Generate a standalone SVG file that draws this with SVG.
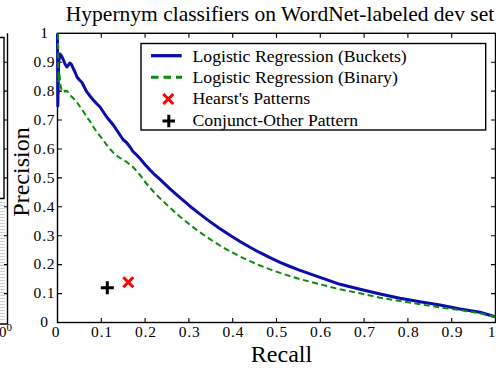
<svg xmlns="http://www.w3.org/2000/svg" width="496" height="370" viewBox="0 0 496 370" font-family="'Liberation Serif','Times New Roman',serif">
<defs>
<style>
text{font-family:"Liberation Serif","Times New Roman",serif;fill:#000}
.tk{font-family:"Liberation Serif","Times New Roman",serif;font-size:15.5px;letter-spacing:0.8px;text-anchor:middle}
.leg{font-family:"Liberation Serif","Times New Roman",serif;font-size:17.7px}
.ax{fill:none;stroke:#000;stroke-width:1.4}
.tick{fill:none;stroke:#000;stroke-width:1.1}
.blue{fill:none;stroke:#0c0caa;stroke-width:3;stroke-linejoin:round}
.green{fill:none;stroke:#0a8a0a;stroke-width:2;stroke-dasharray:6 3.5}
.red{stroke:#ff0000;stroke-width:3}
.blk{stroke:#000;stroke-width:3}
</style>
<pattern id="hatch" width="5" height="3" patternUnits="userSpaceOnUse"><line x1="0" y1="1.5" x2="5" y2="1.5" stroke="#cfcfcf" stroke-width="1"/></pattern>
</defs>
<rect width="496" height="370" fill="#fff"/>

<g id="left-partial-plot">
<rect x="0" y="200" width="5" height="122" fill="url(#hatch)"/>
<polyline class="ax" points="0,37.5 4,37.5 4,198.5 0,198.5"/>
<path class="ax" d="M7.5 33.3V324H0"/>
<path class="tick" d="M7.5 62.2h-3.5M7.5 91.1h-3.5M7.5 120h-3.5M7.5 149h-3.5M7.5 177.9h-3.5M7.5 206.8h-3.5M7.5 235.7h-3.5M7.5 264.6h-3.5M7.5 293.6h-3.5"/>
<text x="-1" y="337" font-size="15" font-family="'Liberation Serif',serif">0</text>
<text x="6.5" y="330.5" font-size="11" font-family="'Liberation Serif',serif">0</text>
</g>

<g id="title">
<text x="280" y="21" font-size="21.5" text-anchor="middle">Hypernym classifiers on WordNet-labeled dev set</text>
</g>

<g id="axes">
<rect class="ax" x="57.5" y="33.3" width="438" height="289.2"/>
<path class="tick" d="M101.3 322.5v-4.5M145.1 322.5v-4.5M188.9 322.5v-4.5M232.7 322.5v-4.5M276.5 322.5v-4.5M320.3 322.5v-4.5M364.1 322.5v-4.5M407.9 322.5v-4.5M451.7 322.5v-4.5
M101.3 33.3v4.5M145.1 33.3v4.5M188.9 33.3v4.5M232.7 33.3v4.5M276.5 33.3v4.5M320.3 33.3v4.5M364.1 33.3v4.5M407.9 33.3v4.5M451.7 33.3v4.5
M57.5 62.2h4.5M57.5 91.1h4.5M57.5 120h4.5M57.5 149h4.5M57.5 177.9h4.5M57.5 206.8h4.5M57.5 235.7h4.5M57.5 264.6h4.5M57.5 293.6h4.5
M495.5 62.2h-4.5M495.5 91.1h-4.5M495.5 120h-4.5M495.5 149h-4.5M495.5 177.9h-4.5M495.5 206.8h-4.5M495.5 235.7h-4.5M495.5 264.6h-4.5M495.5 293.6h-4.5"/>
<g class="tk" font-family="'Liberation Serif','Times New Roman',serif" font-size="15.5" text-anchor="middle">
<text x="56" y="336.5">0</text>
<text x="102" y="336.5">0.1</text>
<text x="145.8" y="336.5">0.2</text>
<text x="189.6" y="336.5">0.3</text>
<text x="233.4" y="336.5">0.4</text>
<text x="277.2" y="336.5">0.5</text>
<text x="321" y="336.5">0.6</text>
<text x="364.8" y="336.5">0.7</text>
<text x="408.6" y="336.5">0.8</text>
<text x="452.4" y="336.5">0.9</text>
<text x="492" y="336.5">1</text>
<text x="44.5" y="327">0</text>
<text x="44.5" y="298.4">0.1</text>
<text x="44.5" y="269.4">0.2</text>
<text x="44.5" y="240.5">0.3</text>
<text x="44.5" y="211.6">0.4</text>
<text x="44.5" y="182.7">0.5</text>
<text x="44.5" y="153.8">0.6</text>
<text x="44.5" y="124.8">0.7</text>
<text x="44.5" y="95.9">0.8</text>
<text x="44.5" y="67">0.9</text>
<text x="44.5" y="37.5">1</text>
</g>
<text x="281.5" y="361.5" font-size="24" text-anchor="middle">Recall</text>
<text transform="translate(28.5,172) rotate(-90)" font-size="24" text-anchor="middle">Precision</text>
</g>

<g id="connectors">
<path id="curve-buckets" class="blue" d="M57.5,33.5 L57.8,106 L58.7,62 L60,54 L61.5,56 L63,59 L65,64 L66.8,67 L68.5,65 L70,63 L71.5,64.5 L73,68 L75,72 L77,77 L79.5,80 L82,82.5 L84,86.5 L86.7,91.7 L90,96 L93.3,100 L96.5,103.5 L100,107 L103,111.5 L106.7,117 L110,121 L113.3,125 L116.7,130 L120,135 L123,139.5 L126.5,142.5 L130,147 L133,151.5 L136.7,155 L140,158.5 L145,164.5 L150,170 L153.3,173.3 L160,179.3 L170,188.8 L180,197.7 L190,206.2 L200,214.1 L210,221.6 L220,228.7 L230,235.3 L240,241.5 L250,247.3 L260,252.7 L270,257.7 L280,262.3 L290,266.5 L300,270.3 L320,277.3 L340,284.3 L360,289.3 L380,294 L400,298.3 L420,301.7 L440,305 L460,309 L480,312.3 L495,316.7"/>
<path id="curve-binary" class="green" d="M58,33.5 L58.4,82 L59.5,74 L60.5,86 L61.7,90 L63.5,89 L65,91.5 L67,91 L70,95 L72.5,97.5 L75,100 L77.5,103 L80,106.7 L83,111 L86.7,116.7 L90,121.5 L93.3,126.7 L96.7,132 L100,136 L103.5,140.5 L106.7,145 L110,149 L115,154.5 L120,158 L126.7,162 L133,167 L140,175 L146,183 L153.3,191.5 L160,198.3 L170,207.7 L180,216.7 L190,224.8 L200,232.3 L210,239.2 L220,245.5 L230,251.3 L240,256.5 L250,261.2 L260,265.5 L270,269.4 L280,272.9 L290,276.1 L300,279.1 L320,284.3 L340,289.3 L360,293.3 L380,297.7 L400,301 L420,304.3 L440,307.3 L460,310 L480,313.3 L495,316.7"/>
</g>

<g id="point-hearst">
<path class="red" d="M123.3,277.3 L133.3,287.3 M133.3,277.3 L123.3,287.3"/>
</g>
<g id="point-conjunct">
<path class="blk" d="M100.8,287.7 H113.8 M107.3,281.2 V294.2"/>
</g>

<g id="legend">
<rect x="141" y="43.5" width="344.7" height="86.5" fill="#fff" stroke="#000" stroke-width="1.4"/>
<line x1="151" y1="55.7" x2="181.7" y2="55.7" stroke="#0c0caa" stroke-width="3.3"/>
<line x1="151" y1="77.3" x2="182" y2="77.3" stroke="#0a8a0a" stroke-width="3" stroke-dasharray="7.5 5"/>
<path class="red" d="M163.3,94 L173.3,104 M173.3,94 L163.3,104"/>
<path class="blk" d="M162.5,121 H175 M168.8,114.7 V127.3"/>
<g class="leg" font-family="'Liberation Serif','Times New Roman',serif" font-size="17.7">
<text x="192.5" y="61.7">Logistic Regression (Buckets)</text>
<text x="192.5" y="83">Logistic Regression (Binary)</text>
<text x="192.5" y="104.3">Hearst's Patterns</text>
<text x="192.5" y="125.6">Conjunct-Other Pattern</text>
</g>
</g>
</svg>
